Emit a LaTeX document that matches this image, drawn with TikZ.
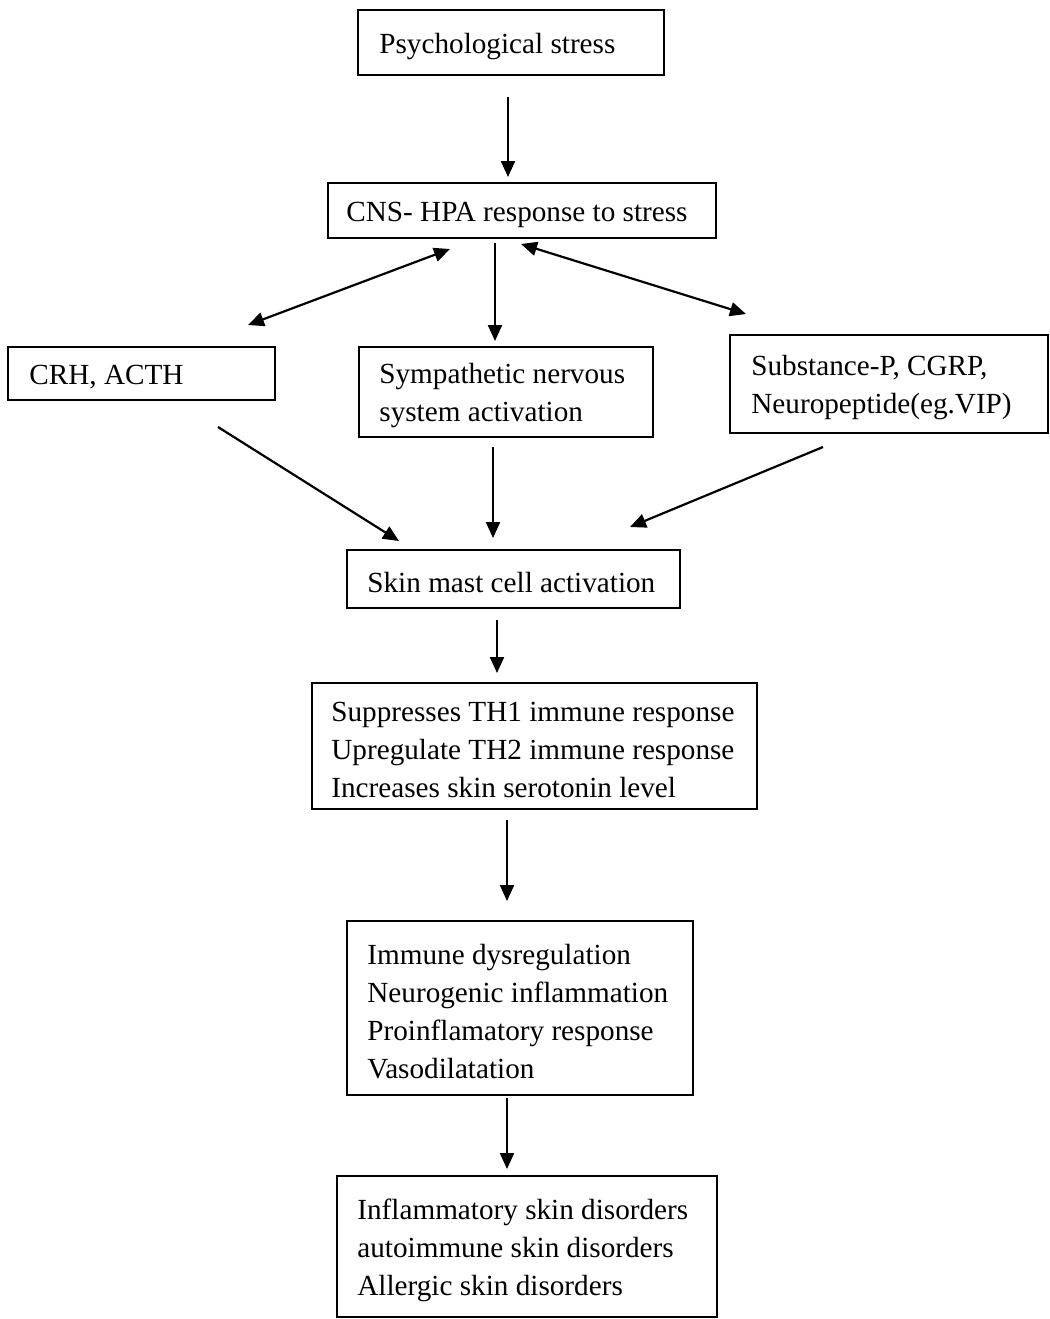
\documentclass[tikz,border=0pt]{standalone}
\usepackage{fontspec}
\setmainfont{Liberation Serif}
\usetikzlibrary{arrows.meta}
\begin{document}
\begin{tikzpicture}[x=0.5pt,y=-0.5pt,
  box/.style={draw,line width=1pt,inner sep=0pt},
  txt/.style={anchor=west,align=left,inner sep=0pt,yshift=-2pt,
    font=\fontsize{14.6}{19}\selectfont},
  arr/.style={line width=1.1pt,-{Triangle[length=8pt,width=7pt]}},
  darr/.style={line width=1.1pt,{Triangle[length=8pt,width=7pt]}-{Triangle[length=8pt,width=7pt]}}]
\useasboundingbox (0,0) rectangle (1050,1319);
% boxes
\node[box,minimum width=153pt,minimum height=32.5pt] (psy) at (511,42.5) {};
\node[box,minimum width=194pt,minimum height=27.5pt] (cns) at (522,210.5) {};
\node[box,minimum width=133.5pt,minimum height=26.5pt] (crh) at (141.5,373.5) {};
\node[box,minimum width=147pt,minimum height=45pt] (sym) at (506,392) {};
\node[box,minimum width=159pt,minimum height=49pt] (sub) at (889,384) {};
\node[box,minimum width=166.5pt,minimum height=29pt] (mast) at (513.5,579) {};
\node[box,minimum width=222.5pt,minimum height=63pt] (sup) at (534.5,746) {};
\node[box,minimum width=173pt,minimum height=87pt] (imm) at (520,1008) {};
\node[box,minimum width=190pt,minimum height=70.5pt] (inf) at (527,1246.5) {};
% texts
\node[txt] (psyT) at ([xshift=11pt]psy.west) {Psychological stress};
\node[txt] (cnsT) at ([xshift=9.5pt]cns.west) {CNS- HPA response to stress};
\node[txt] (crhT) at ([xshift=11pt]crh.west) {CRH, ACTH};
\node[txt] (symT) at ([xshift=10.5pt]sym.west) {Sympathetic nervous\\system activation};
\node[txt] (subT) at ([xshift=11pt]sub.west) {Substance-P, CGRP,\\Neuropeptide(eg.VIP)};
\node[txt] (mastT) at ([xshift=10.5pt]mast.west) {Skin mast cell activation};
\node[txt] (supT) at ([xshift=10pt]sup.west) {Suppresses TH1 immune response\\Upregulate TH2 immune response\\Increases skin serotonin level};
\node[txt] (immT) at ([xshift=10.5pt]imm.west) {Immune dysregulation\\Neurogenic inflammation\\Proinflamatory response\\Vasodilatation};
\node[txt] (infT) at ([xshift=10.5pt]inf.west) {Inflammatory skin disorders\\autoimmune skin disorders\\Allergic skin disorders};
% connector ends
\coordinate (psyS) at (508,97);   \coordinate (cnsN) at (508,177);
\coordinate (cnsL) at (450,249);  \coordinate (crhN) at (248,325);
\coordinate (cnsC) at (495,243);  \coordinate (symN) at (495,341);
\coordinate (cnsR) at (521,244);  \coordinate (subN) at (746,314);
\coordinate (crhS) at (218,427);  \coordinate (mastL) at (399,541);
\coordinate (symS) at (493,447);  \coordinate (mastC) at (493,538);
\coordinate (subS) at (823,447);  \coordinate (mastR) at (630,527);
\coordinate (mastS) at (497,620); \coordinate (supN) at (497,673);
\coordinate (supS) at (507,820);  \coordinate (immN) at (507,901);
\coordinate (immS) at (507,1098); \coordinate (infN) at (507,1169);
% connectors
\draw[arr] (psyS) -- (cnsN);
\draw[darr] (cnsL) -- (crhN);
\draw[arr] (cnsC) -- (symN);
\draw[darr] (cnsR) -- (subN);
\draw[arr] (crhS) -- (mastL);
\draw[arr] (symS) -- (mastC);
\draw[arr] (subS) -- (mastR);
\draw[arr] (mastS) -- (supN);
\draw[arr] (supS) -- (immN);
\draw[arr] (immS) -- (infN);
\end{tikzpicture}
\end{document}
